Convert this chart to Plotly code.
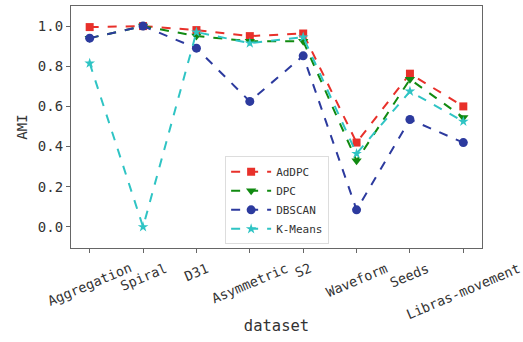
import plotly.graph_objects as go

categories = ["Aggregation", "Spiral", "D31", "Asymmetric", "S2", "Waveform", "Seeds", "Libras-movement"]
adpc = [0.995, 1.0, 0.98, 0.95, 0.963, 0.42, 0.763, 0.60]
dpc = [0.94, 1.0, 0.95, 0.925, 0.925, 0.33, 0.735, 0.545]
dbscan = [0.94, 1.0, 0.89, 0.625, 0.852, 0.085, 0.535, 0.42]
kmeans = [0.815, 0.0, 0.97, 0.915, 0.945, 0.365, 0.675, 0.525]
series_names = ["AdDPC", "DPC", "DBSCAN", "K-Means"]
y_ticks = [0.0, 0.2, 0.4, 0.6, 0.8, 1.0]

FONT = "DejaVu Sans Mono"
styles = [
    ("#e8302a", "square", 8),
    ("#118a11", "triangle-down", 9),
    ("#2c3a9e", "circle", 9),
    ("#2fc4c4", "star", 8),
]

fig = go.Figure()
xs = list(range(len(categories)))
for name, vals, (col, sym, sz) in zip(series_names, [adpc, dpc, dbscan, kmeans], styles):
    fig.add_trace(go.Scatter(
        x=xs, y=vals, name=name, mode="lines+markers",
        line=dict(color=col, width=2, dash="dash"),
        marker=dict(color=col, symbol=sym, size=sz),
    ))

for i, lab in enumerate(categories):
    fig.add_annotation(x=i, y=0, xref="x", yref="paper", text=lab, showarrow=False,
                       textangle=-23, xanchor="center", yanchor="top", yshift=-9,
                       font=dict(size=13.5, family=FONT, color="#333"))

fig.update_layout(
    width=523, height=342,
    margin=dict(l=71, r=41, t=6, b=94),
    paper_bgcolor="white", plot_bgcolor="white",
    font=dict(family=FONT, size=12, color="#333"),
    showlegend=True,
    legend=dict(x=0.375, y=0.015, xanchor="left", yanchor="bottom",
                bgcolor="rgba(255,255,255,0.85)", bordercolor="#ddd", borderwidth=1,
                font=dict(size=11, family=FONT), itemwidth=40, tracegroupgap=0),
)
fig.update_xaxes(
    range=[-0.35, 7.35], tickmode="array", tickvals=xs, showticklabels=False,
    showgrid=False, zeroline=False, automargin=False,
    showline=True, mirror=True, linecolor="#666", linewidth=1.2,
    ticks="outside", ticklen=4, tickcolor="#666",
    title=dict(text="dataset", font=dict(size=15.5, family=FONT), standoff=68),
)
fig.update_yaxes(
    range=[-0.105, 1.1], tickmode="array", tickvals=y_ticks,
    ticktext=[f"{v:.1f}" for v in y_ticks],
    showgrid=False, zeroline=False, automargin=False,
    showline=True, mirror=True, linecolor="#666", linewidth=1.2,
    ticks="outside", ticklen=4, tickcolor="#666",
    tickfont=dict(size=14, family=FONT),
    title=dict(text="AMI", font=dict(size=14, family=FONT), standoff=6),
)

fig.write_html("out.html", config={"displayModeBar": False},
               post_script="document.body.style.margin='0';")
